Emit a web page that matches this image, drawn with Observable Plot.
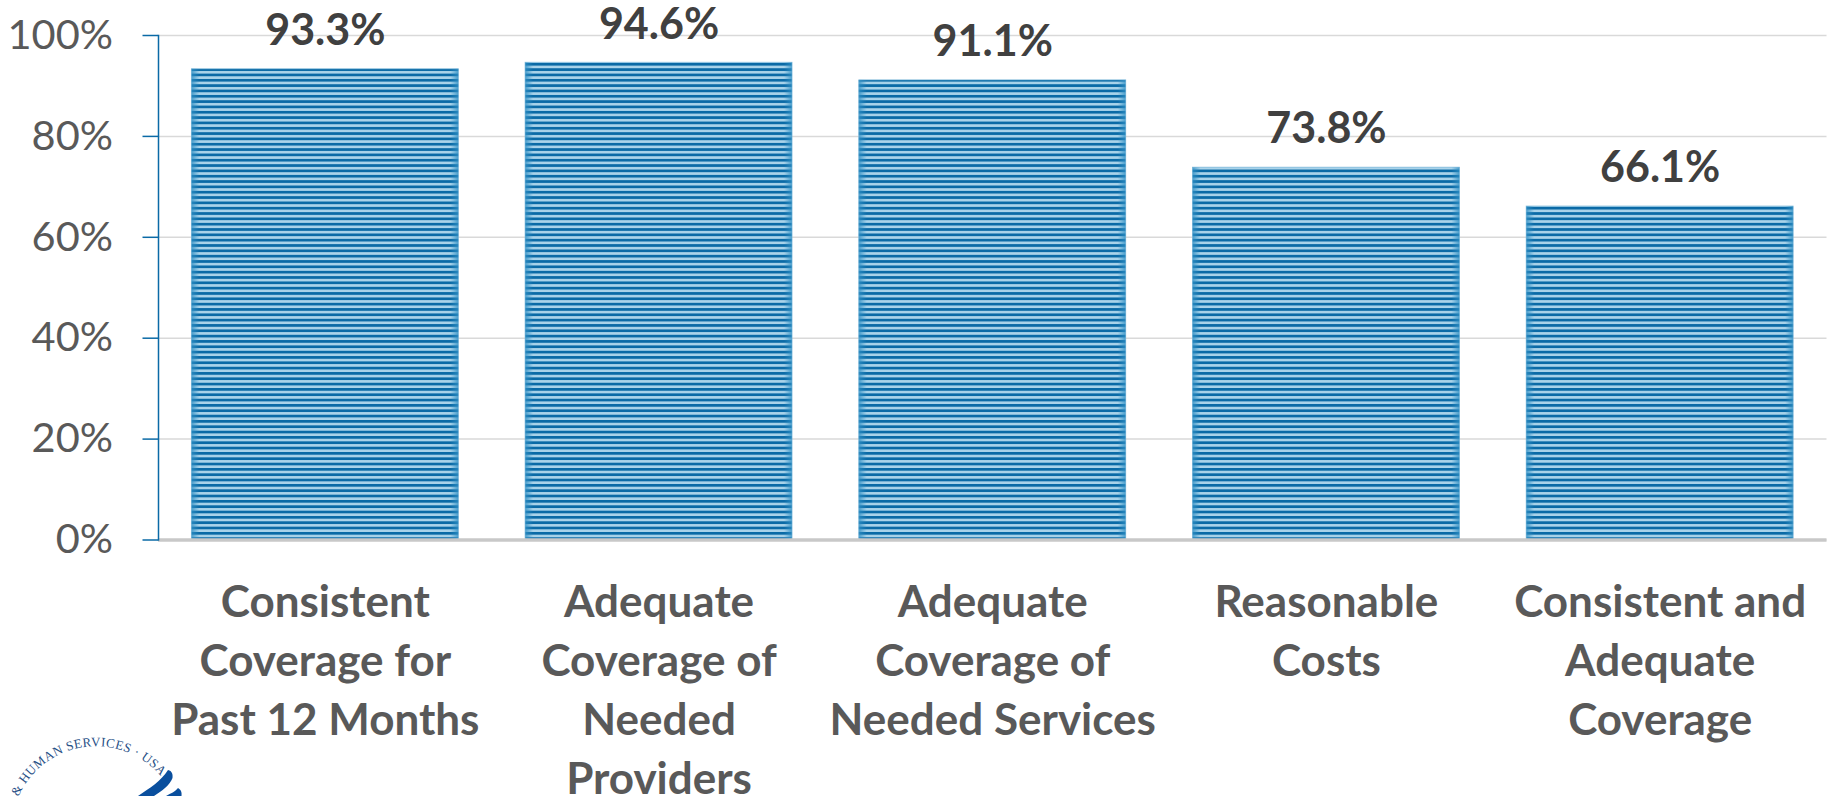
<!DOCTYPE html>
<html><head><meta charset="utf-8">
<style>html,body{margin:0;padding:0;background:#fff;overflow:hidden}#c,#logo{position:absolute;left:0;top:0}</style>
<script src="https://cdn.jsdelivr.net/npm/d3@7"></script>
<script src="https://cdn.jsdelivr.net/npm/@observablehq/plot@0.6"></script>
</head><body><div id="c"></div>
<svg id="logo" width="200" height="796" viewBox="0 0 200 796" style="pointer-events:none">
<defs><path id="sealArc" d="M11,831 A85,85 0 0 1 161,776.5" fill="none"/></defs>
<text font-family="Liberation Serif, serif" font-size="13" fill="#274f86" text-anchor="end" letter-spacing=".4"><textPath href="#sealArc" startOffset="100%">H &amp; HUMAN SERVICES · USA</textPath></text>
<path d="M138,796 C150,788 161,781 168,770 C172,771 173,774 172.5,778 C170,785 162,791 154,796 Z" fill="#0a4f9e"/>
<path d="M166,796 C171,793 175,792 178,788 C181,790 182,792 181.5,796 Z" fill="#0a4f9e"/>
</svg>
<script>
const categories=["Consistent Coverage for Past 12 Months","Adequate Coverage of Needed Providers","Adequate Coverage of Needed Services","Reasonable Costs","Consistent and Adequate Coverage"];
const values=[93.3,94.6,91.1,73.8,66.1];
const valueLabels=["93.3%","94.6%","91.1%","73.8%","66.1%"];
const categoryLines=[["Consistent","Coverage for","Past 12 Months"],["Adequate","Coverage of","Needed","Providers"],["Adequate","Coverage of","Needed Services"],["Reasonable","Costs"],["Consistent and","Adequate","Coverage"]];
const yTicks=[0,20,40,60,80,100];
const rows=categories.map((c,i)=>({c,v:values[i],l:valueLabels[i]}));
const F="Lato, Carlito, sans-serif";
const defs=()=>{const s=d3.create("svg:g");s.html(`<defs>
<pattern id="stripes" patternUnits="userSpaceOnUse" width="8" height="5.33" patternTransform="translate(0,4.3)"><rect width="8" height="5.33" fill="#a9d3ea"/><rect width="8" height="2.7" fill="#0a6aa6"/></pattern>
<linearGradient id="edges"><stop offset="0" stop-color="#2f8fc4" stop-opacity=".8"/><stop offset=".03" stop-color="#2f8fc4" stop-opacity="0"/><stop offset=".97" stop-color="#2f8fc4" stop-opacity="0"/><stop offset="1" stop-color="#2f8fc4" stop-opacity=".8"/></linearGradient></defs>`);return s.node();};
const chart=Plot.plot({width:1832,height:796,marginLeft:158,marginRight:5.5,marginTop:35,marginBottom:256.5,
 style:{background:"#fff",fontFamily:F,overflow:"visible"},
 x:{domain:categories,paddingInner:0.2,paddingOuter:0.1,round:false,axis:null},
 y:{domain:[0,100],ticks:yTicks,axis:null},
 marks:[defs,
  Plot.gridY(yTicks,{stroke:"#d9d9d9",strokeOpacity:1,strokeWidth:1.5}),
  Plot.barY(rows,{x:"c",y:"v",fill:"url(#stripes)"}),
  Plot.barY(rows,{x:"c",y:"v",fill:"url(#edges)",stroke:"#6fb0d6",strokeWidth:0.8,strokeOpacity:0.8}),
  Plot.ruleY([0],{stroke:"#c8c8c8",strokeWidth:3.5}),
  Plot.axisY({ticks:yTicks,label:null,tickFormat:d=>d+"%",tickSize:15.5,tickPadding:30,stroke:"#0a6aa6",fill:"#595959",fontSize:41.5,strokeWidth:1.5}),
  Plot.frame({anchor:"left",stroke:"#0a6aa6",strokeWidth:1.5}),
  Plot.text(rows,{x:"c",y:"v",text:"l",dy:-38,fontSize:43,fontWeight:700,fill:"#404040"}),
  Plot.text(rows,{x:"c",y:()=>0,text:(d,i)=>categoryLines[i].join("\n"),lineHeight:1.345,lineAnchor:"top",textAnchor:"middle",dy:34.5,fontSize:44,fontWeight:700,fill:"#595959"})
 ]});
document.getElementById("c").appendChild(chart);
</script></body></html>
